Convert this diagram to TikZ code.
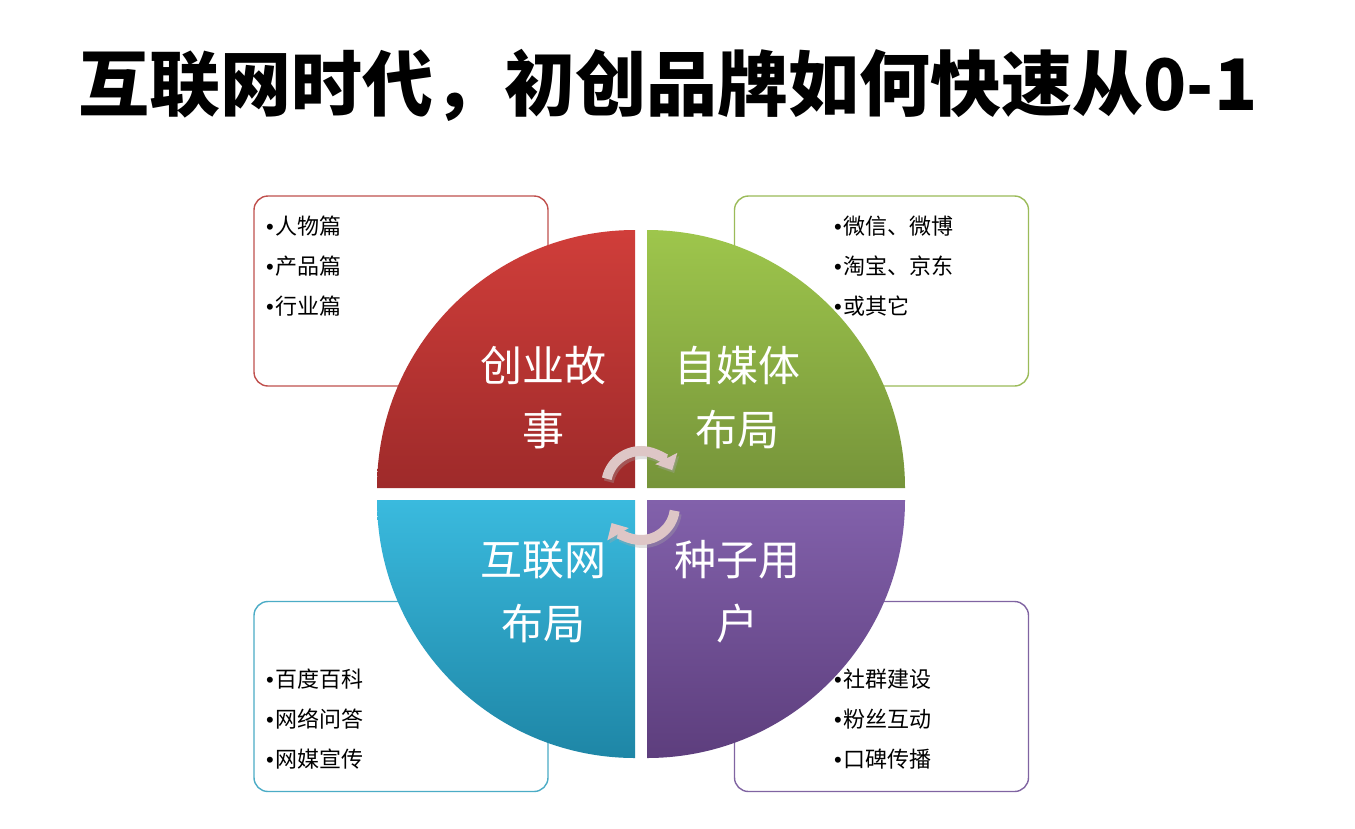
\documentclass[tikz,border=0pt]{standalone}
\usepackage{fontspec}
\setmainfont{Noto Sans CJK SC}
\newfontfamily\latinfont{Liberation Sans}
\newcommand\dotmark{{\latinfont\char"2022}\kern2pt}
\usetikzlibrary{arrows.meta,positioning}

\definecolor{storyline}{RGB}{192,80,77}
\definecolor{mediline}{RGB}{155,187,89}
\definecolor{netline}{RGB}{75,172,198}
\definecolor{seedline}{RGB}{128,100,162}
\definecolor{storytop}{RGB}{208,62,58}
\definecolor{storybot}{RGB}{158,42,42}
\definecolor{meditop}{RGB}{158,198,76}
\definecolor{medibot}{RGB}{118,148,58}
\definecolor{nettop}{RGB}{58,186,222}
\definecolor{netbot}{RGB}{30,134,166}
\definecolor{seedtop}{RGB}{130,97,171}
\definecolor{seedbot}{RGB}{93,62,125}
\definecolor{turnpink}{RGB}{222,198,198}

\begin{document}
\begin{tikzpicture}[x=1pt, y=-1pt,
  listbox/.style={draw=#1, line width=1.4pt, rounded corners=14pt, fill=white,
  minimum width=294pt, minimum height=190pt, inner sep=0pt},
  items/.style={align=left, inner sep=0pt, anchor=north west, font=\fontsize{22}{40}\selectfont},
  quadtext/.style={text=white, align=center, font=\fontsize{42}{64}\selectfont},
  turn/.style={line width=10pt, draw=turnpink, -{Triangle[length=13pt, width=24pt]}},
  turnshadow/.style={line width=10pt, draw=black!35, opacity=0.35, -{Triangle[length=13pt, width=24pt]}}]
\useasboundingbox[fill=white] (0,0) rectangle (1355,828);

\node[font=\fontsize{71}{71}\selectfont\bfseries] (title) at (668,85) {互联网时代，初创品牌如何快速从0-1};

% side boxes
\node[listbox=storyline] (storybox) at (401,291) {};
\node[listbox=mediline] (medibox) at (881.5,291) {};
\node[listbox=netline] (netbox) at (401,696.5) {};
\node[listbox=seedline] (seedbox) at (881.5,696.5) {};

% four quarters
\shade[top color=storytop, bottom color=storybot] (635,488) -- (377,488)
  arc[start angle=180, end angle=270, radius=258] -- cycle;
\shade[top color=meditop, bottom color=medibot] (647,488) -- (905,488)
  arc[start angle=0, end angle=-90, radius=258] -- cycle;
\shade[top color=nettop, bottom color=netbot] (635,500) -- (377,500)
  arc[start angle=180, end angle=90, radius=258] -- cycle;
\shade[top color=seedtop, bottom color=seedbot] (647,500) -- (905,500)
  arc[start angle=0, end angle=90, radius=258] -- cycle;

\node[quadtext] (story) at (543,398) {创业故\\事};
\node[quadtext] (media) at (737,398) {自媒体\\布局};
\node[quadtext] (net) at (543,592) {互联网\\布局};
\node[quadtext] (seed) at (737,592) {种子用\\户};

% turning arrows in the middle
\coordinate (hub) at (641,495);
\draw[turnshadow] ([shift={(192:35)}]643,489) arc[start angle=192, end angle=333, radius=35];
\draw[turn] ([shift={(192:35)}]641,486) arc[start angle=192, end angle=333, radius=35];
\draw[turnshadow] ([shift={(8:34)}]643,509) arc[start angle=8, end angle=150, radius=34];
\draw[turn] ([shift={(8:34)}]641,506) arc[start angle=8, end angle=150, radius=34];

% lists
\node[items] (storylist) at (266,216) {\dotmark{}人物篇\\\dotmark{}产品篇\\\dotmark{}行业篇};
\node[items] (medilist) at (834,216) {\dotmark{}微信、微博\\\dotmark{}淘宝、京东\\\dotmark{}或其它};
\node[items] (netlist) at (266,669) {\dotmark{}百度百科\\\dotmark{}网络问答\\\dotmark{}网媒宣传};
\node[items] (seedlist) at (834,669) {\dotmark{}社群建设\\\dotmark{}粉丝互动\\\dotmark{}口碑传播};
\end{tikzpicture}
\end{document}
